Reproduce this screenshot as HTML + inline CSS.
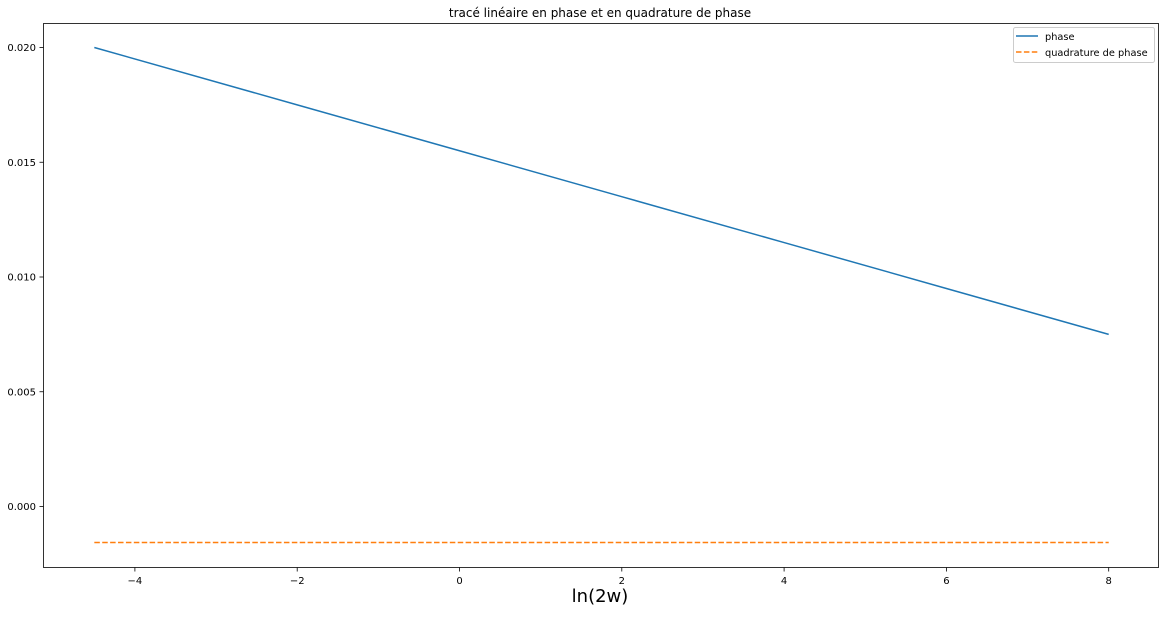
<!DOCTYPE html>
<html><head><meta charset="utf-8"><style>
body{margin:0;background:#fff;font-family:"Liberation Sans","DejaVu Sans",sans-serif}
svg text{font-family:"DejaVu Sans","Liberation Sans",sans-serif}
</style></head><body>
<svg id="chart" width="1165" height="613">
<rect width="1165" height="613" fill="#fff"/>
<text x="600" y="17" text-anchor="middle" font-size="12">tracé linéaire en phase et en quadrature de phase</text>
<g id="axes"></g>
<g id="series"></g>
<rect x="43.5" y="23.5" width="1115" height="544" fill="none" stroke="#000" stroke-width="0.8"/>
<text x="600" y="602" text-anchor="middle" font-size="18">ln(2w)</text>
<g>
<rect x="1013.5" y="27.5" width="141" height="35" rx="2" fill="#fff" stroke="#ccc"/>
<line x1="1016" y1="36" x2="1038" y2="36" stroke="#1f77b4" stroke-width="1.5"/>
<text x="1045" y="40" font-size="9.8">phase</text>
<line x1="1016" y1="52" x2="1038" y2="52" stroke="#ff7f0e" stroke-width="1.5" stroke-dasharray="5.5,2.4"/>
<text x="1045" y="56" font-size="9.8">quadrature de phase</text>
</g>
</svg>
<script>
const xs=[-4.5,-2,0,2,4,6,8];
const phase=[0.020,0.0175,0.0155,0.0135,0.0115,0.0095,0.0075];
const quad=[-0.00157,-0.00157,-0.00157,-0.00157,-0.00157,-0.00157,-0.00157];
const xTicks=[-4,-2,0,2,4,6,8];
const xTickLabels=["\u22124","\u22122","0","2","4","6","8"];
const yTicks=[0.000,0.005,0.010,0.015,0.020];
const yTickLabels=["0.000","0.005","0.010","0.015","0.020"];
const X=v=>459.5+(v)*81.15;
const Y=v=>506.5-v*22950;
const NS="http://www.w3.org/2000/svg";
const ax=document.getElementById('axes'),se=document.getElementById('series');
function mk(t,a,p){const e=document.createElementNS(NS,t);for(const k in a)e.setAttribute(k,a[k]);p.appendChild(e);return e;}
xTicks.forEach((t,i)=>{
 const l=mk('line',{x1:X(t),x2:X(t),y1:567.5,y2:571.5,stroke:'#000','stroke-width':0.8},ax);
 
 
 const tx=mk('text',{x:X(t),y:584,'text-anchor':'middle','font-size':10},ax);tx.textContent=xTickLabels[i];
 
 
});
yTicks.forEach((t,i)=>{
 const l=mk('line',{x1:39.5,x2:43.5,y1:Y(t),y2:Y(t),stroke:'#000','stroke-width':0.8},ax);
 
 
 const tx=mk('text',{x:36,y:Y(t)+3.5,'text-anchor':'end','font-size':10},ax);tx.textContent=yTickLabels[i];
 
 
});
const p1=mk('polyline',{points:xs.map((x,i)=>X(x)+','+Y(phase[i])).join(' '),fill:'none',stroke:'#1f77b4','stroke-width':1.5},se);


const p2=mk('polyline',{points:xs.map((x,i)=>X(x)+','+Y(quad[i])).join(' '),fill:'none',stroke:'#ff7f0e','stroke-width':1.5,'stroke-dasharray':'5.5,2.4'},se);


</script>
</body></html>
